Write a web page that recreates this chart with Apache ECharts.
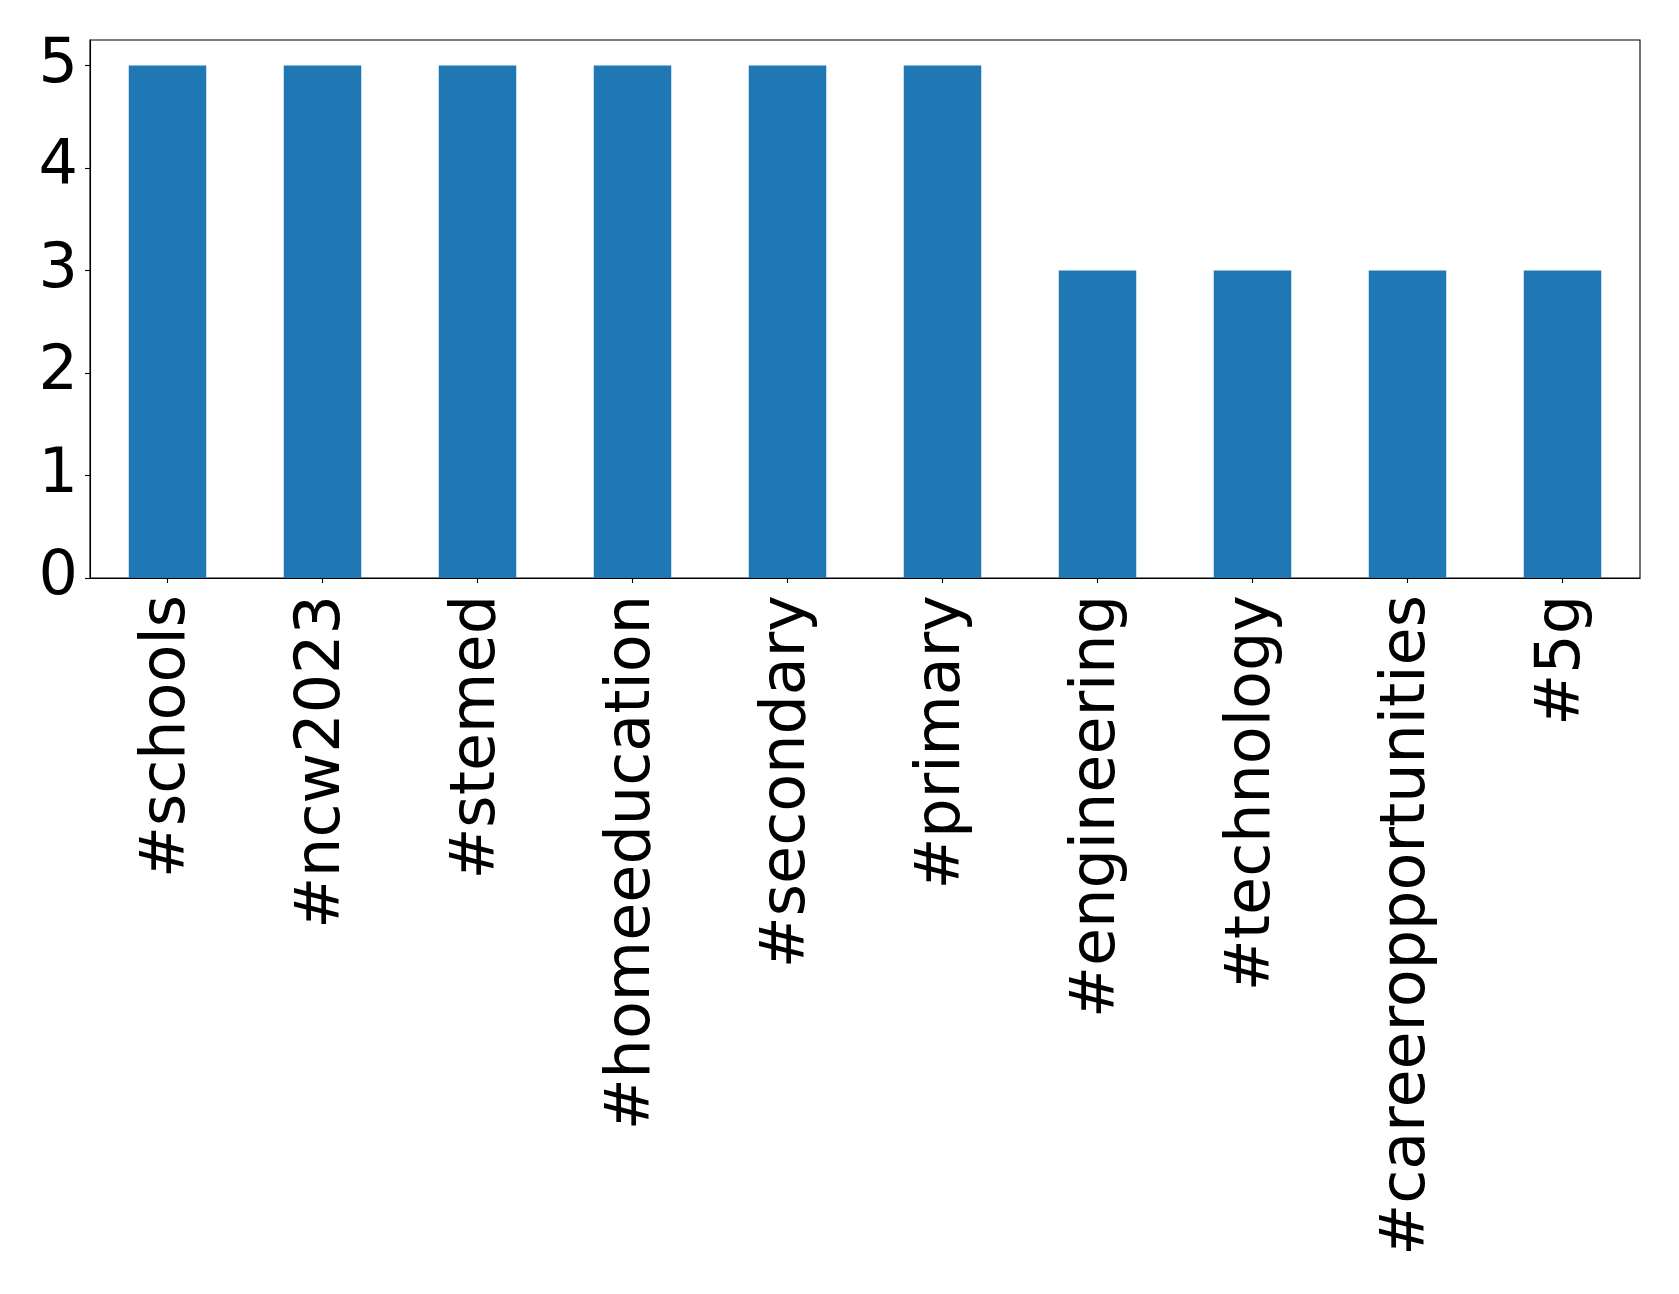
<!DOCTYPE html>
<html>
<head>
<meta charset="utf-8">
<script src="https://cdn.jsdelivr.net/npm/echarts@6/dist/echarts.min.js"></script>
<style>html,body{margin:0;padding:0;background:#fff;}#c{width:1679px;height:1294px;}</style>
</head>
<body>
<div id="c"></div>
<script>
const categories = ['#schools', '#ncw2023', '#stemed', '#homeeducation', '#secondary', '#primary', '#engineering', '#technology', '#careeropportunities', '#5g'];
const counts = [5, 5, 5, 5, 5, 5, 3, 3, 3, 3];
const yTicks = [0, 1, 2, 3, 4, 5];

const chart = echarts.init(document.getElementById('c'), null, {renderer: 'canvas'});
const font = 'DejaVu Sans';
chart.setOption({
  animation: false,
  backgroundColor: '#ffffff',
  grid: {left: 90, top: 40, right: 39, bottom: 716, show: true, borderColor: '#000', borderWidth: 1.1, backgroundColor: 'transparent', containLabel: false},
  xAxis: {
    type: 'category',
    data: categories,
    boundaryGap: true,
    axisLine: {show: true, lineStyle: {color: '#000', width: 1.1}},
    axisTick: {show: true, alignWithLabel: true, length: 5, lineStyle: {color: '#000', width: 1.1}},
    axisLabel: {rotate: 90, fontSize: 62, fontFamily: font, color: '#000', margin: 17, interval: 0},
    splitLine: {show: false}
  },
  yAxis: {
    type: 'value',
    min: 0,
    max: 5.25,
    interval: 1,
    axisLine: {show: true, lineStyle: {color: '#000', width: 1.1}},
    axisTick: {show: true, length: 5, customValues: yTicks, lineStyle: {color: '#000', width: 1.1}},
    axisLabel: {fontSize: 62, fontFamily: font, color: '#000', margin: 12, customValues: yTicks},
    splitLine: {show: false}
  },
  series: [{
    type: 'bar',
    data: counts,
    barWidth: '50%',
    itemStyle: {color: '#1f77b4'}
  }]
});
</script>
</body>
</html>
